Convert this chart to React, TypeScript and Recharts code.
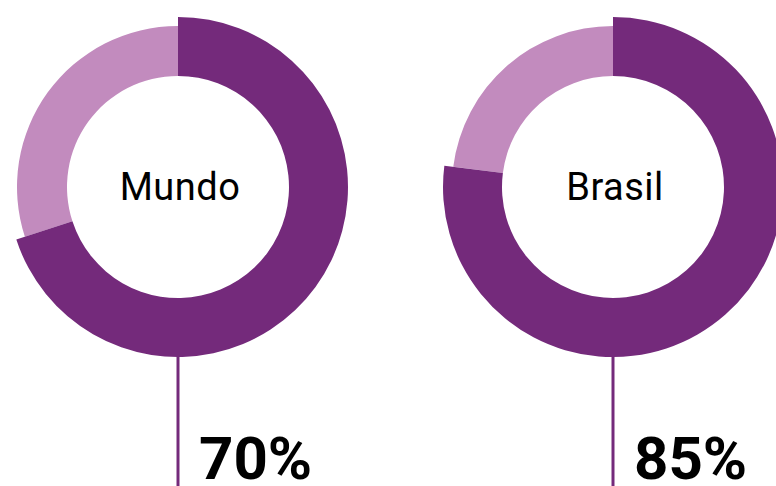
import { PieChart, Pie, Cell, Label } from 'recharts';

const regions = ['Mundo', 'Brasil'];
// share of the ring drawn in dark purple, as read from the arcs
const shares = [70, 77];
const shareLabels = ['70%', '85%'];

const DARK = '#742a7b';
const LIGHT = '#c28bbe';
const centersX = [178, 613];

export default function App() {
  return (
    <div style={{ position: 'absolute', left: 0, top: 0, width: 776, height: 486, overflow: 'hidden', background: '#fff' }}>
      <PieChart width={776} height={486} margin={{ top: 0, right: 0, bottom: 0, left: 0 }}>
        {regions.map((region, i) => {
          const data = [
            { name: 'sim', value: shares[i] },
            { name: 'resto', value: 100 - shares[i] },
          ];
          return [
            // light remainder (thinner ring)
            <Pie
              key={`light-${region}`}
              data={data}
              dataKey="value"
              cx={centersX[i]}
              cy={187}
              innerRadius={111}
              outerRadius={161}
              startAngle={90}
              endAngle={-270}
              stroke="none"
              isAnimationActive={false}
            >
              <Cell fill="transparent" />
              <Cell fill={LIGHT} />
            </Pie>,
            // dark share (thicker ring) + labels
            <Pie
              key={`dark-${region}`}
              data={data}
              dataKey="value"
              cx={centersX[i]}
              cy={187}
              innerRadius={111}
              outerRadius={170}
              startAngle={90}
              endAngle={-270}
              stroke="none"
              isAnimationActive={false}
            >
              <Cell fill={DARK} />
              <Cell fill="transparent" />
              <Label
                position="center"
                content={(props: any) => {
                  const vb = props.viewBox || {};
                  const cx = vb.cx ?? centersX[i];
                  const cy = vb.cy ?? 187;
                  const r = vb.outerRadius ?? 170;
                  return (
                    <g>
                      <text x={cx + 2} y={cy + 13} textAnchor="middle" fontFamily="Roboto" fontSize={38} letterSpacing={0.5} fill="#000">
                        {region}
                      </text>
                      <line x1={cx} x2={cx} y1={cy + r - 2} y2={486} stroke={DARK} strokeWidth={3} />
                      <text x={cx + 21} y={479} textAnchor="start" fontFamily="Roboto" fontWeight={700} fontSize={60} fill="#000">
                        {shareLabels[i]}
                      </text>
                    </g>
                  );
                }}
              />
            </Pie>,
          ];
        })}
      </PieChart>
    </div>
  );
}
